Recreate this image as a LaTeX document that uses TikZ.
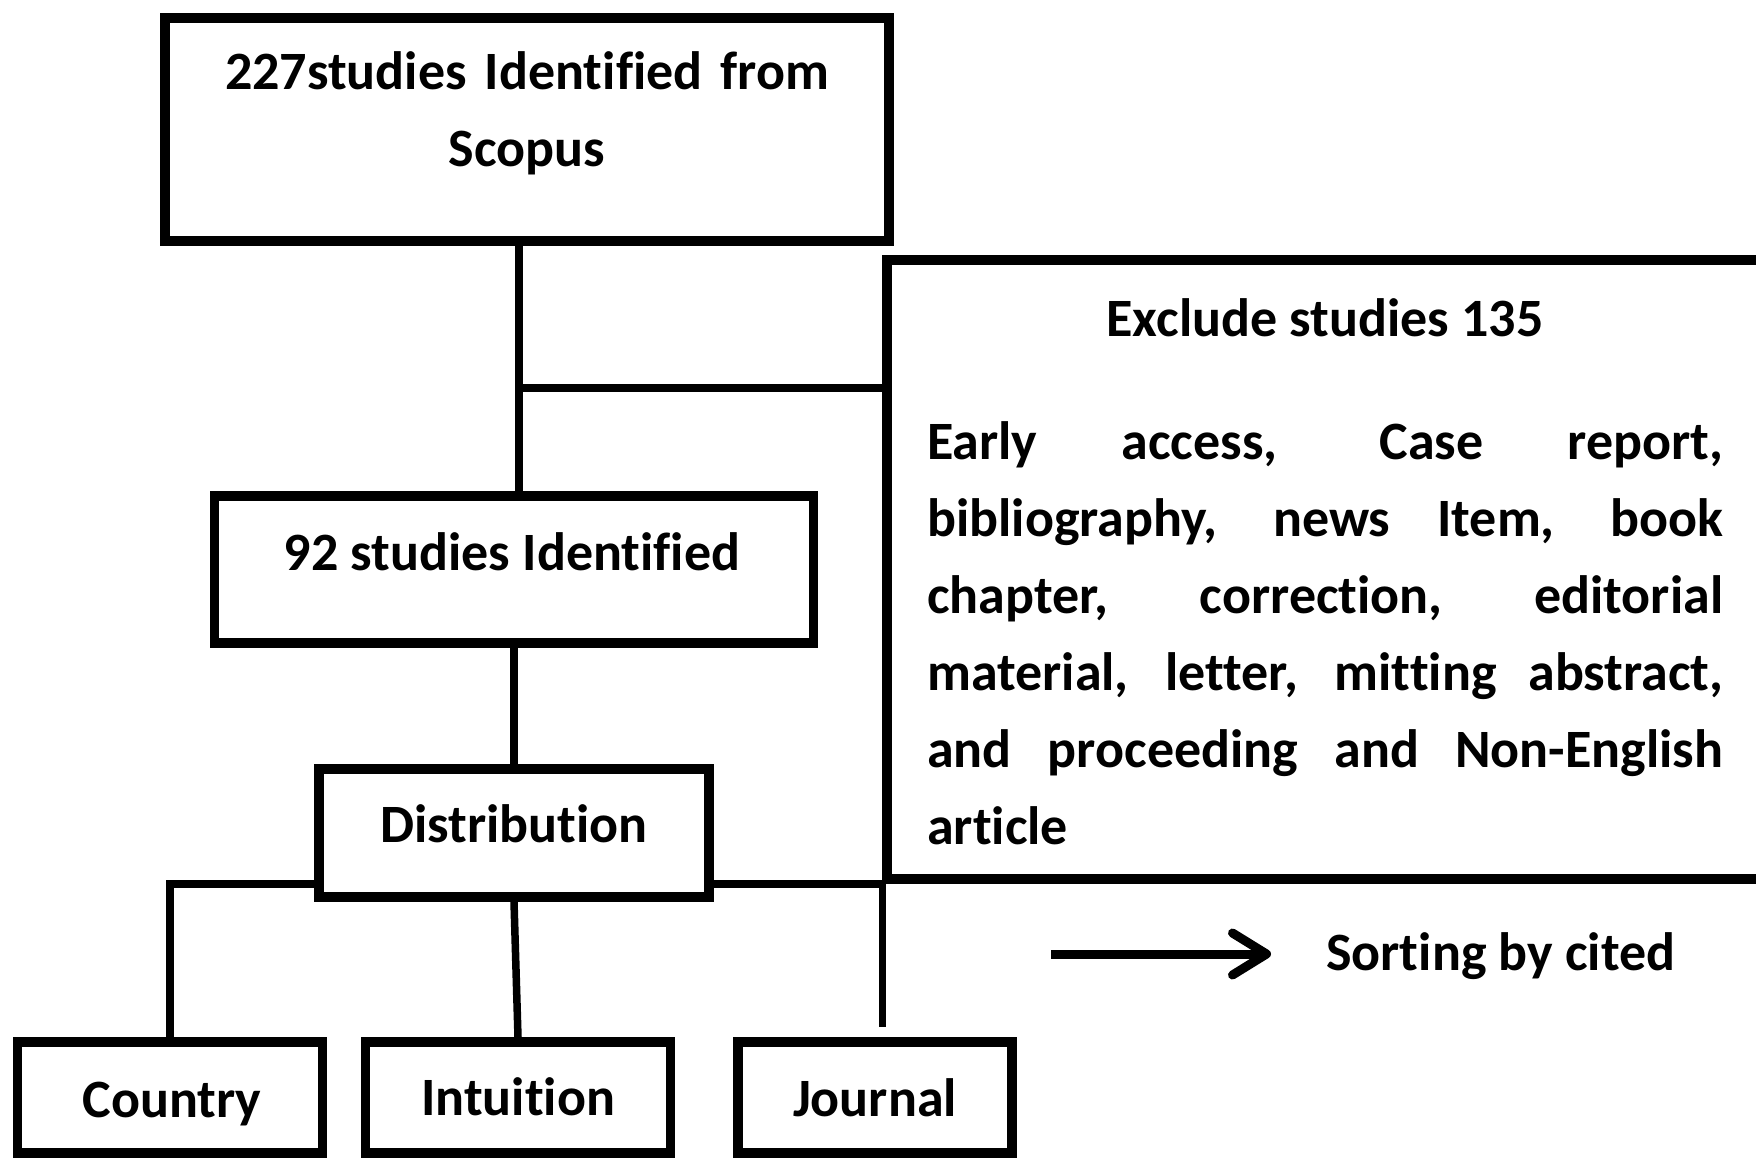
\documentclass[tikz,border=0pt]{standalone}
\usepackage{fontspec}
\setmainfont{Carlito}[Ligatures={NoCommon}]
\usetikzlibrary{arrows.meta}

\begin{document}
\begin{tikzpicture}[x=1pt,y=-1pt,
	box/.style={draw, line width=9.5pt, inner sep=0pt},
	txt/.style={font=\bfseries\fontsize{54}{77}\selectfont, inner sep=0pt},
	link/.style={line width=7.5pt},
	arr/.style={line width=9pt, -{Straight Barb[length=34pt, width=42pt, round]}}]
\clip (0,0) rectangle (1756,1158);
\node[box, minimum width=724, minimum height=223] (scopus) at (527,129.5) {};
\node[box, minimum width=900, minimum height=619] (excl) at (1337,569.5) {};
\node[box, minimum width=599, minimum height=147] (n92) at (514,569.5) {};
\node[box, minimum width=390, minimum height=128] (dist) at (514,833) {};
\node[box, minimum width=305, minimum height=111] (country) at (170,1097.5) {};
\node[box, minimum width=305, minimum height=111] (intu) at (518,1097.5) {};
\node[box, minimum width=274, minimum height=111] (journal) at (875,1097.5) {};

\node[txt, anchor=base, text width=700, align=center] (scopustxt) at (527,90)
	{227studies Identified from\\Scopus};
\node[txt, anchor=base] (excltitle) at (1325,336) {Exclude studies 135};
\node[txt, anchor=base west, text width=796, align=justify] (excltxt) at (927,459)
	{Early access, Case report,\linebreak
	bibliography, news Item, book\linebreak
	chapter, correction, editorial\linebreak
	material, letter, mitting abstract,\linebreak
	and proceeding and Non-English\linebreak
	article};
\node[txt, anchor=base] (n92txt) at (512,570) {92 studies Identified};
\node[txt, anchor=base] (disttxt) at (514,842) {Distribution};
\node[txt, anchor=base] (countrytxt) at (172,1117) {Country};
\node[txt, anchor=base] (intutxt) at (518,1115) {Intuition};
\node[txt, anchor=base] (journaltxt) at (875,1116) {Journal};
\node[txt, anchor=base west] (sort) at (1326,970) {Sorting by cited};

\coordinate (j1) at (519,388);
\coordinate (a0) at (1051,954);
\draw[link] (j1 |- scopus.south) -- (j1) -- (j1 -| excl.west);
\draw[link] (j1) -- (j1 |- n92.north);
\draw[link] (n92.south) -- (dist.north);
\draw[link] (country.north) |- (dist.west |- excl.south);
\draw[link] (dist.east |- excl.south) -- (excl.south west);
\draw[link] (dist.south) -- (intu.north);
\draw[link] (excl.south west) -- ([yshift=10pt]excl.south west |- journal.north);
\draw[arr] (a0) -- (a0 -| sort.west) [shorten >=55pt];
\end{tikzpicture}
\end{document}
